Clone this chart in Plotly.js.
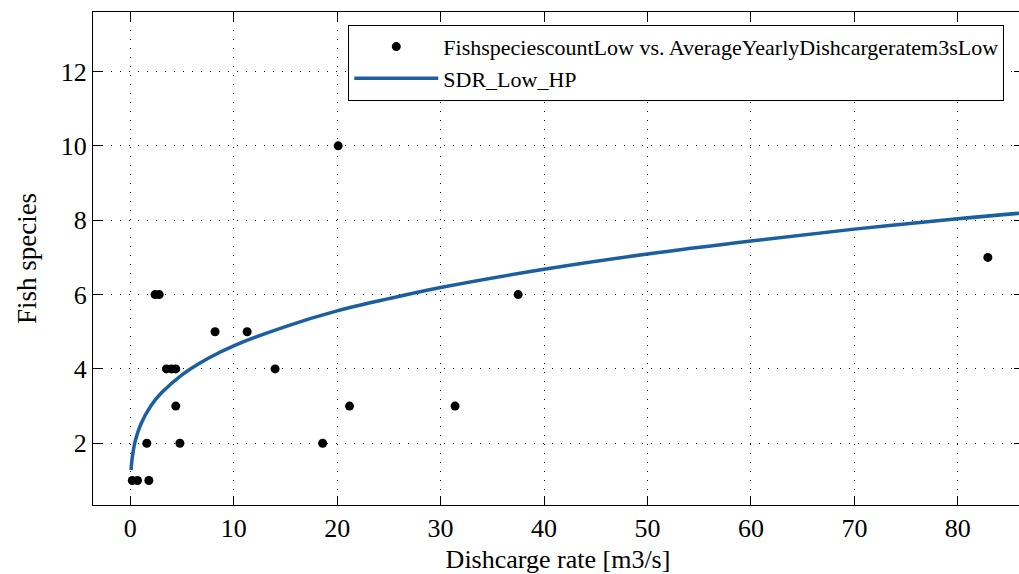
<!DOCTYPE html>
<html>
<head>
<meta charset="utf-8">
<script src="https://cdn.plot.ly/plotly-3.0.1.min.js"></script>
<style>
html, body { margin: 0; padding: 0; background: #fff; overflow: hidden; width: 1019px; height: 574px; }
#chart { width: 1024px; height: 574px; }
</style>
</head>
<body>
<div id="chart"></div>
<script>
// Observed points: average yearly discharge (m3/s) vs fish species count
const discharge = [0.2, 0.7, 1.8, 1.6, 4.8, 18.6, 4.4, 21.2, 31.4, 3.5, 4.0, 4.4, 14.0, 8.2, 11.3, 2.4, 2.8, 37.5, 82.9, 20.1];
const species   = [1,   1,   1,   2,   2,   2,    3,   3,    3,    4,   4,   4,   4,    5,   5,    6,   6,   6,    7,    10];

// Fitted curve SDR_Low_HP
const fitX = [0.08, 0.15, 0.3, 0.5, 1, 2, 3, 5, 7.5, 10, 15, 20, 25, 30, 40, 50, 60, 70, 80, 86.5];
const fitY = [1.28, 1.51, 1.81, 2.08, 2.50, 3.01, 3.35, 3.84, 4.28, 4.62, 5.14, 5.56, 5.89, 6.19, 6.68, 7.09, 7.44, 7.76, 8.04, 8.20];

const xTicks = [0, 10, 20, 30, 40, 50, 60, 70, 80];
const yTicks = [2, 4, 6, 8, 10, 12];

const seriesNames = ['FishspeciescountLow vs. AverageYearlyDishcargeratem3sLow', 'SDR_Low_HP'];
const xTitle = 'Dishcarge rate [m3/s]';
const yTitle = 'Fish species';

const serif = '"Liberation Serif", "Times New Roman", serif';

const traces = [
  {
    x: discharge, y: species, type: 'scatter', mode: 'markers',
    name: seriesNames[0],
    marker: { color: '#000', size: 9 }
  },
  {
    x: fitX, y: fitY, type: 'scatter', mode: 'lines',
    name: seriesNames[1],
    line: { color: '#1b5f9f', width: 3.5, shape: 'spline' }
  }
];

const axisCommon = {
  showline: true, linecolor: '#000', linewidth: 1, mirror: 'ticks',
  ticks: 'inside', ticklen: 9, tickcolor: '#000', tickwidth: 1,
  showgrid: true, gridcolor: '#000', gridwidth: 1, griddash: '1px,8px',
  zeroline: false,
  tickfont: { family: serif, size: 26, color: '#000' }
};

const layout = {
  width: 1024, height: 574,
  margin: { l: 93, r: 1, t: 12, b: 69 },
  paper_bgcolor: '#fff', plot_bgcolor: '#fff',
  showlegend: true,
  xaxis: Object.assign({}, axisCommon, {
    range: [-3.6, 86.3], tickmode: 'array', tickvals: xTicks,
    title: { text: xTitle, font: { family: serif, size: 26, color: '#000' }, standoff: 7 }
  }),
  yaxis: Object.assign({}, axisCommon, {
    range: [0.34, 13.6], tickmode: 'array', tickvals: yTicks,
    title: { text: yTitle, font: { family: serif, size: 27, color: '#000' }, standoff: 16 }
  }),
  legend: {
    x: 0.2745, xanchor: 'left', y: 0.974, yanchor: 'top',
    bgcolor: '#fff', bordercolor: '#000', borderwidth: 1,
    font: { family: serif, size: 22, color: '#000' },
    itemwidth: 84
  }
};

Plotly.newPlot('chart', traces, layout, { displayModeBar: false, staticPlot: true });
</script>
</body>
</html>
